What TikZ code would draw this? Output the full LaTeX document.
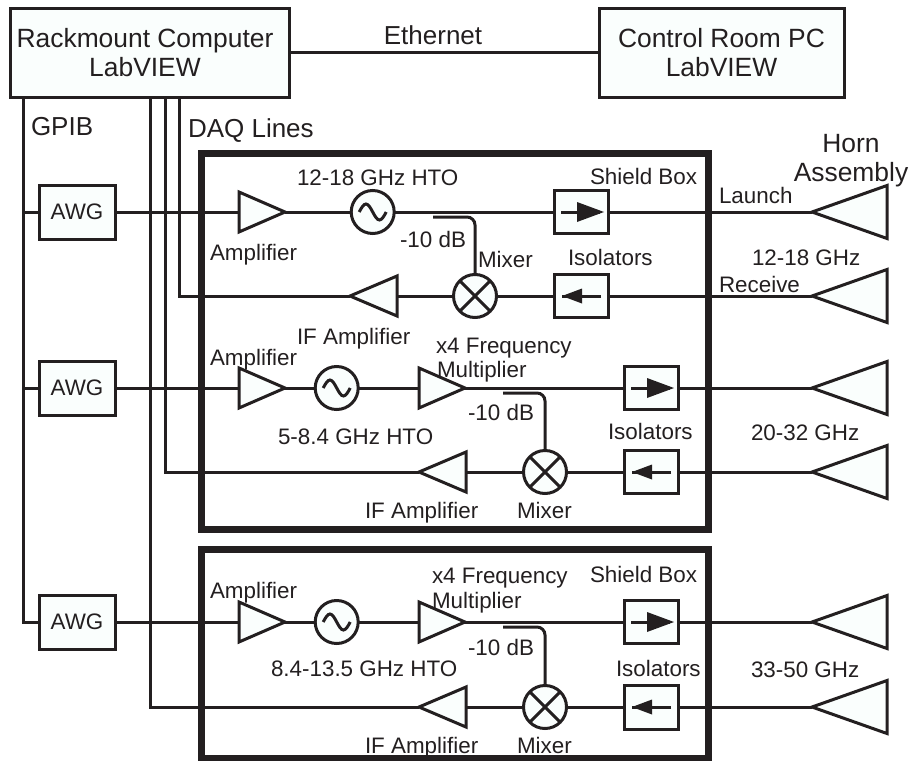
\documentclass[tikz,border=0pt]{standalone}
\usepackage{fontspec}
\setmainfont{Liberation Sans}
\definecolor{ink}{HTML}{231F20}
\definecolor{paper}{HTML}{FAFEFD}
\tikzset{
  wire/.style={draw=ink,line width=3pt},
  shield/.style={draw=ink,line width=7pt,rectangle,inner sep=0pt,outer sep=0pt},
  block/.style={draw=ink,fill=paper,line width=3pt,rectangle,inner sep=0pt,outer sep=0pt,text=ink,align=center},
  roundel/.style={draw=ink,fill=paper,line width=3pt,circle,inner sep=0pt,outer sep=0pt,minimum size=43pt},
  holder/.style={rectangle,inner sep=0pt,outer sep=0pt},
  solid tri/.style={draw=ink,fill=paper,line width=3pt,line join=miter},
  big/.style={font=\fontsize{26.4}{29}\selectfont},
  small/.style={font=\fontsize{22.4}{24}\selectfont},
  lab/.style={small,text=ink,inner sep=0pt,outer sep=0pt,anchor=base west},
  labc/.style={lab,anchor=base},
}
% right-pointing triangle: name, base x, tip x, y, half height
\newcommand{\trir}[5]{%
  \node[holder,minimum width={#3-#2},minimum height={2*#5}] (#1) at ({(#2+#3)/2},#4) {};
  \draw[solid tri] (#1.north west) -- (#1.east) -- (#1.south west) -- cycle;}
% left-pointing triangle: name, tip x, base x, y, half height
\newcommand{\tril}[5]{%
  \node[holder,minimum width={#3-#2},minimum height={2*#5}] (#1) at ({(#2+#3)/2},#4) {};
  \draw[solid tri] (#1.north east) -- (#1.west) -- (#1.south east) -- cycle;}
\newcommand{\osc}[3]{%
  \node[roundel] (#1) at (#2,#3) {};
  \draw[draw=ink,line width=3pt] ([xshift=-13.5pt]#1.center) sin ([xshift=-6.75pt,yshift=8pt]#1.center) cos (#1.center) sin ([xshift=6.75pt,yshift=-8pt]#1.center) cos ([xshift=13.5pt]#1.center);}
\newcommand{\mix}[3]{%
  \node[roundel] (#1) at (#2,#3) {};
  \draw[draw=ink,line width=3pt] (#1.north west) -- (#1.south east) (#1.north east) -- (#1.south west);}
% isolators: name, left x, right x, centre y, height
\newcommand{\isor}[5]{%
  \node[block,minimum width={#3-#2},minimum height={#5}] (#1) at ({(#2+#3)/2},#4) {};
  \draw[wire] ([xshift=7pt]#1.west) -- ([xshift=-8pt]#1.east);
  \fill[ink] ([xshift=23pt,yshift=10pt]#1.west) -- ([xshift=-4pt]#1.east) -- ([xshift=23pt,yshift=-10pt]#1.west) -- cycle;}
\newcommand{\isol}[5]{%
  \node[block,minimum width={#3-#2},minimum height={#5}] (#1) at ({(#2+#3)/2},#4) {};
  \draw[wire] ([xshift=-7pt]#1.east) -- ([xshift=8pt]#1.west);
  \fill[ink] ([xshift=28pt,yshift=7.5pt]#1.west) -- ([xshift=8pt]#1.west) -- ([xshift=28pt,yshift=-7.5pt]#1.west) -- cycle;}
\begin{document}
\begin{tikzpicture}[x=1pt,y=-1pt]
\useasboundingbox (0,0) rectangle (909,760);
% shield boxes
\node[shield,minimum width=507.5pt,minimum height=376.5pt] (sb1) at (454.75,341.25) {};
\node[shield,minimum width=507.5pt,minimum height=209pt] (sb2) at (454.75,654) {};
% computers
\node[block,big,minimum width=279pt,minimum height=89pt] (rack) at (149.5,53) {Rackmount Computer\hspace*{9pt}\\LabVIEW\hspace*{9pt}};
\node[block,big,minimum width=245pt,minimum height=89pt] (pc) at (721.5,53) {Control Room PC\\LabVIEW};
% AWGs
\node[block,small,minimum width=76pt,minimum height=54pt] (awga) at (77,212) {AWG};
\node[block,small,minimum width=76pt,minimum height=54pt] (awgb) at (77,388) {AWG};
\node[block,small,minimum width=76pt,minimum height=54pt] (awgc) at (77,622) {AWG};
% row 1
\trir{ampa}{239}{285}{212}{20}
\osc{osca}{372.7}{212}
\isor{isoa}{554}{608}{212}{43}
\tril{horna}{812}{887}{212}{26.5}
% row 2
\tril{ifa}{350}{397}{296}{20}
\mix{mixa}{475}{296}
\isol{isob}{554}{608}{296}{43}
\tril{hornb}{812}{887}{296}{26.5}
% row 3
\trir{ampb}{239}{285}{388}{20}
\osc{oscb}{336.7}{388}
\trir{multb}{419}{465}{388}{20}
\isor{isoc}{624}{678}{388}{43}
\tril{hornc}{812}{887}{388}{26.5}
% row 4
\tril{ifb}{419}{466}{472}{20}
\mix{mixb}{545}{472}
\isol{isod}{624}{678}{472}{43}
\tril{hornd}{812}{887}{472}{26.5}
% row 5
\trir{ampc}{239}{285}{622}{20}
\osc{oscc}{336.7}{622}
\trir{multc}{419}{465}{622}{20}
\isor{isoe}{624}{678}{622}{43}
\tril{horne}{812}{887}{622}{26.5}
% row 6
\tril{ifc}{419}{466}{707}{20}
\mix{mixc}{545}{707}
\isol{isof}{624}{678}{707}{44}
\tril{hornf}{812}{887}{707}{26.5}
% free ends
\coordinate (gpib) at (23.5,622);
\coordinate (daqa) at (179.5,296);
\coordinate (daqb) at (165,472);
\coordinate (daqc) at (150.5,707);
\coordinate (cpa) at (433,217);
\coordinate (cpb) at (503,393);
\coordinate (cpc) at (503,627);
% connectors
\draw[wire] (rack) -- (pc);
\draw[wire] (rack.south -| gpib) -- (gpib) -- (awgc.west);
\draw[wire] (awga.west -| gpib) -- (awga.west);
\draw[wire] (awgb.west -| gpib) -- (awgb.west);
\draw[wire] (rack.south -| daqa) -- (daqa) -- (ifa.west);
\draw[wire] (rack.south -| daqb) -- (daqb) -- (ifb.west);
\draw[wire] (rack.south -| daqc) -- (daqc) -- (ifc.west);
\draw[wire] (awga.east) -- (ampa.west);
\draw[wire] (awgb.east) -- (ampb.west);
\draw[wire] (awgc.east) -- (ampc.west);
\draw[wire] (ampa.east) -- (osca);
\draw[wire] (osca) -- (isoa);
\draw[wire] (isoa) -- (horna.west);
\draw[wire] (hornb.west) -- (isob);
\draw[wire] (isob) -- (mixa);
\draw[wire] (mixa) -- (ifa.east);
\draw[wire] (ampb.east) -- (oscb);
\draw[wire] (oscb) -- (multb.west);
\draw[wire] (multb.east) -- (isoc);
\draw[wire] (isoc) -- (hornc.west);
\draw[wire] (hornd.west) -- (isod);
\draw[wire] (isod) -- (mixb);
\draw[wire] (mixb) -- (ifb.east);
\draw[wire] (ampc.east) -- (oscc);
\draw[wire] (oscc) -- (multc.west);
\draw[wire] (multc.east) -- (isoe);
\draw[wire] (isoe) -- (horne.west);
\draw[wire] (hornf.west) -- (isof);
\draw[wire] (isof) -- (mixc);
\draw[wire] (mixc) -- (ifc.east);
\draw[wire,rounded corners=8pt] (cpa) -| (mixa.north);
\draw[wire,rounded corners=8pt] (cpb) -| (mixb.north);
\draw[wire,rounded corners=8pt] (cpc) -| (mixc.north);
% labels
\node[labc,font=\fontsize{26}{28}\selectfont] (teth) at (433,45) {Ethernet};
\node[lab,font=\fontsize{26}{28}\selectfont] (tgpib) at (31,135) {GPIB};
\node[lab,font=\fontsize{26}{28}\selectfont] (tdaq) at (188,137) {DAQ Lines};
\node[lab] (t1a) at (297,185) {12-18 GHz HTO};
\node[lab] (t1b) at (590,184) {Shield Box};
\node[lab] (t1c) at (719,203) {Launch};
\node[lab,font=\fontsize{26.4}{29}\selectfont,anchor=base] (thorn) at (851,152) {Horn};
\node[lab,font=\fontsize{26.4}{29}\selectfont,anchor=base] (tass) at (851,181) {Assembly};
\node[lab] (t1d) at (210,260) {Amplifier};
\node[lab] (t1e) at (400,247) {-10 dB};
\node[lab] (t1f) at (478,267) {Mixer};
\node[lab] (t1g) at (568,265) {Isolators};
\node[lab] (t1h) at (752,265) {12-18 GHz};
\node[lab] (t1i) at (719,292) {Receive};
\node[lab] (t1j) at (297,344) {IF Amplifier};
\node[lab] (t2a) at (210,365) {Amplifier};
\node[lab] (t2b) at (436,353) {x4 Frequency};
\node[lab] (t2c) at (437,377) {Multiplier};
\node[lab] (t2d) at (468,420) {-10 dB};
\node[lab] (t2e) at (278,444) {5-8.4 GHz HTO};
\node[lab] (t2f) at (608,439) {Isolators};
\node[lab] (t2g) at (751,440) {20-32 GHz};
\node[lab] (t2h) at (365,518) {IF Amplifier};
\node[lab] (t2i) at (517,518) {Mixer};
\node[lab] (t3a) at (210,598) {Amplifier};
\node[lab] (t3b) at (432,583) {x4 Frequency};
\node[lab] (t3c) at (432,608) {Multiplier};
\node[lab] (t3d) at (590,582) {Shield Box};
\node[lab] (t3e) at (468,655) {-10 dB};
\node[lab] (t3f) at (271,676) {8.4-13.5 GHz HTO};
\node[lab] (t3g) at (616,676) {Isolators};
\node[lab] (t3h) at (751,677) {33-50 GHz};
\node[lab] (t3i) at (365,753) {IF Amplifier};
\node[lab] (t3j) at (517,753) {Mixer};
\end{tikzpicture}
\end{document}
